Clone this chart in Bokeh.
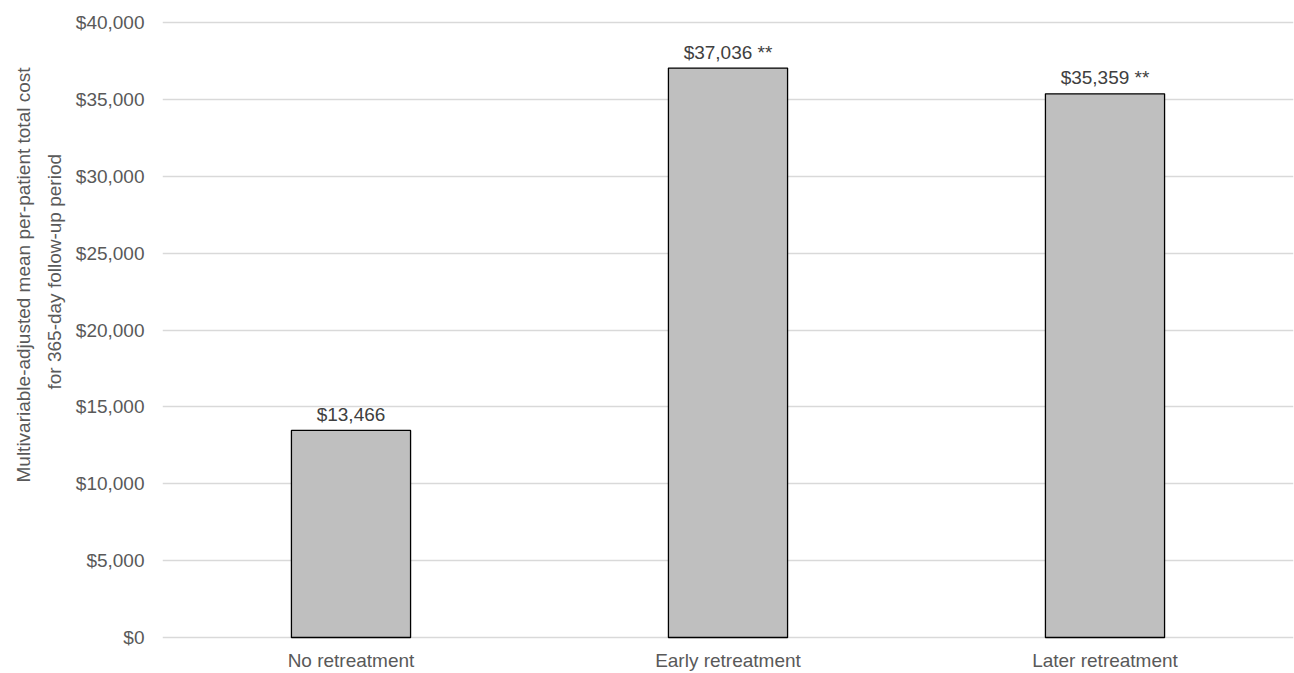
from bokeh.plotting import figure
from bokeh.models import ColumnDataSource, FactorRange, Range1d, FixedTicker, NumeralTickFormatter, Title
from bokeh.core.properties import value
from bokeh.embed import file_html
from bokeh.resources import INLINE

categories = ["No retreatment", "Early retreatment", "Later retreatment"]
costs = [13466, 37036, 35359]
value_labels = ["$13,466", "$37,036 **", "$35,359 **"]
y_ticks = [0, 5000, 10000, 15000, 20000, 25000, 30000, 35000, 40000]
title_line1 = "Multivariable-adjusted mean per-patient total cost"
title_line2 = "for 365-day follow-up period"

FONT = "Liberation Sans"
FS = "19px"
TICK_COLOR = "#595959"

src = ColumnDataSource(dict(cat=categories, cost=costs, lab=value_labels))

p = figure(x_range=FactorRange(*categories, range_padding=0), y_range=Range1d(-130, 40130),
           width=1294, height=673, output_backend="svg", toolbar_location=None,
           min_border_left=162, min_border_right=1, min_border_top=20, min_border_bottom=0)
p.outline_line_color = None

p.vbar(x="cat", top="cost", bottom=0, width=0.316, source=src, fill_color="#bfbfbf",
       line_color="#000000", line_width=1.3)
p.text(x="cat", y="cost", text="lab", source=src, text_align="center",
       text_baseline="alphabetic", y_offset=-16, text_font=value(FONT),
       text_font_size=value(FS), text_color="#404040")

p.yaxis.ticker = FixedTicker(ticks=y_ticks)
p.yaxis.formatter = NumeralTickFormatter(format="$0,0")
p.yaxis.axis_line_color = None
p.yaxis.major_tick_line_color = None
p.yaxis.minor_tick_line_color = None
p.yaxis.major_tick_in = 0
p.yaxis.major_tick_out = 0
p.yaxis.major_label_standoff = 18
p.yaxis.major_label_text_font = FONT
p.yaxis.major_label_text_font_size = FS
p.yaxis.major_label_text_color = TICK_COLOR

p.xaxis.axis_line_color = None
p.xaxis.major_tick_line_color = None
p.xaxis.major_tick_in = 0
p.xaxis.major_tick_out = 0
p.xaxis.major_label_standoff = 10
p.xaxis.major_label_text_font = FONT
p.xaxis.major_label_text_font_size = FS
p.xaxis.major_label_text_color = TICK_COLOR

p.xgrid.grid_line_color = None
p.ygrid.grid_line_color = "#d9d9d9"
p.ygrid.grid_line_width = 1.3

t2 = Title(text=title_line2, align="left", offset=250, text_font=FONT, text_font_size=FS,
           text_font_style="normal", text_color=TICK_COLOR, standoff=16, text_line_height=1.0)
t1 = Title(text=title_line1, align="left", offset=157, text_font=FONT, text_font_size=FS,
           text_font_style="normal", text_color=TICK_COLOR, standoff=0, text_line_height=1.0)
p.add_layout(t2, "left")
p.add_layout(t1, "left")

open("out.html", "w").write(file_html(p, INLINE))
